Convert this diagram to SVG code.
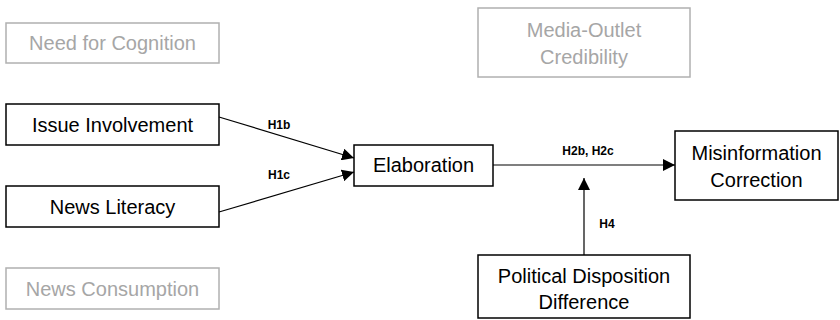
<svg xmlns="http://www.w3.org/2000/svg" width="840" height="320" viewBox="0 0 840 320">
<style>
.box{fill:#fff;stroke:#000;stroke-width:1.5}
.gbox{fill:#fff;stroke:#b0b0b0;stroke-width:1.5}
.t{font-family:"Liberation Sans",Arial,sans-serif;font-size:20px;fill:#000;text-anchor:middle}
.gt{font-family:"Liberation Sans",Arial,sans-serif;font-size:20px;fill:#a6a6a6;text-anchor:middle}
.lbl{font-family:"Liberation Sans",Arial,sans-serif;font-size:12px;font-weight:bold;fill:#000;text-anchor:middle}
.edge{stroke:#000;stroke-width:1.2;fill:none;marker-end:url(#ah)}
</style>
<defs>
<marker id="ah" viewBox="0 0 10 10" refX="10" refY="5" markerWidth="12" markerHeight="12" markerUnits="userSpaceOnUse" orient="auto">
<path d="M0,0 L10,5 L0,10 z" fill="#000"/>
</marker>
</defs>
<rect width="840" height="320" fill="#fff"/>
<g id="need-for-cognition"><rect class="gbox" x="6" y="23" width="213" height="40"/><text class="gt" x="112.5" y="50">Need for Cognition</text></g>
<g id="issue-involvement"><rect class="box" x="6" y="104" width="213" height="41"/><text class="t" x="112.5" y="132">Issue Involvement</text></g>
<g id="news-literacy"><rect class="box" x="6" y="186" width="213" height="41"/><text class="t" x="112.5" y="214">News Literacy</text></g>
<g id="news-consumption"><rect class="gbox" x="6" y="268" width="213" height="41"/><text class="gt" x="112.5" y="296">News Consumption</text></g>
<g id="media-outlet-credibility"><rect class="gbox" x="478" y="8" width="212" height="69"/><text class="gt" x="584" y="37">Media-Outlet</text><text class="gt" x="584" y="64">Credibility</text></g>
<g id="elaboration"><rect class="box" x="354" y="145" width="139" height="41"/><text class="t" x="423.5" y="172">Elaboration</text></g>
<g id="misinformation-correction"><rect class="box" x="675" y="131" width="163" height="69"/><text class="t" x="756.5" y="160">Misinformation</text><text class="t" x="756.5" y="187">Correction</text></g>
<g id="political-disposition-difference"><rect class="box" x="478" y="255" width="212" height="63"/><text class="t" x="584" y="283">Political Disposition</text><text class="t" x="584" y="309">Difference</text></g>
<g id="connectors">
<line class="edge" x1="219" y1="117" x2="354" y2="158"/>
<line class="edge" x1="219" y1="212" x2="354" y2="172"/>
<line class="edge" x1="493" y1="165" x2="675" y2="165"/>
<line class="edge" x1="584" y1="255" x2="584" y2="178"/>
<text class="lbl" x="279" y="129">H1b</text>
<text class="lbl" x="279" y="179">H1c</text>
<text class="lbl" x="588" y="155">H2b, H2c</text>
<text class="lbl" x="607" y="228">H4</text>
</g>
</svg>
